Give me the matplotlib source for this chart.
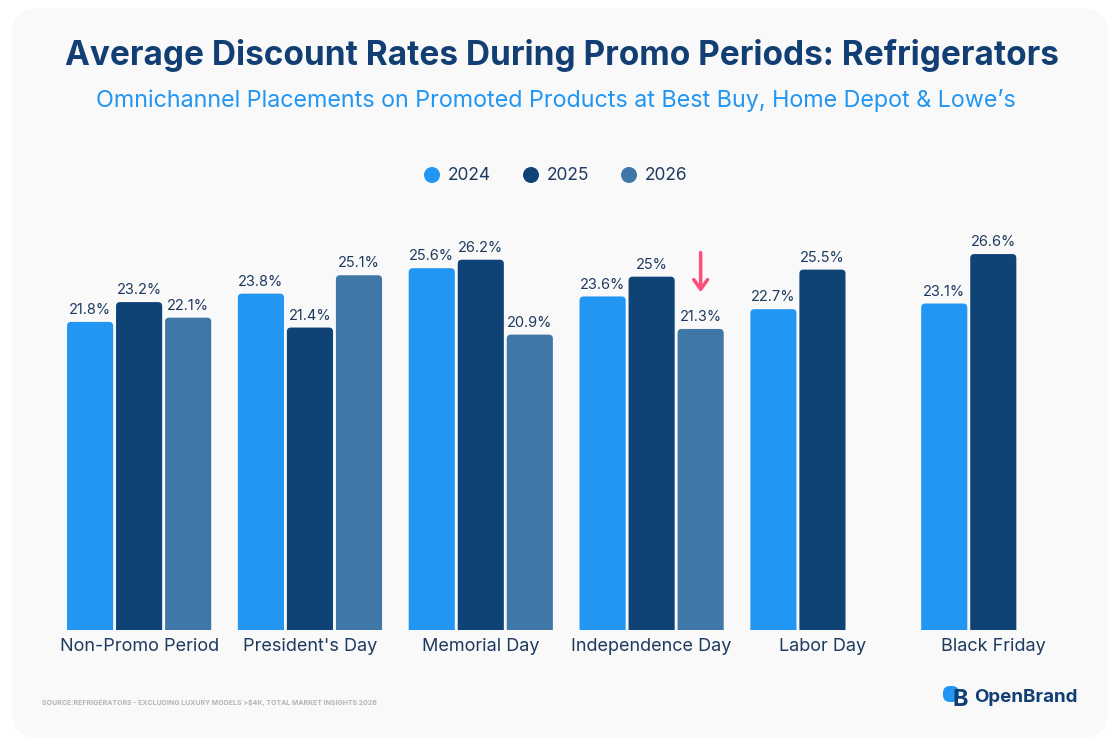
"""Average discount rates during promo periods -- refrigerators (grouped bar card)."""

import matplotlib

matplotlib.use("Agg")
import matplotlib.pyplot as plt
import numpy as np
from matplotlib.patches import Circle, FancyBboxPatch

W, H = 1120, 746

# Data
periods = ["Non-Promo Period", "President's Day", "Memorial Day",
           "Independence Day", "Labor Day", "Black Friday"]
years = ["2024", "2025", "2026"]
rate_2024 = [21.8, 23.8, 25.6, 23.6, 22.7, 23.1]
rate_2025 = [23.2, 21.4, 26.2, 25.0, 25.5, 26.6]
rate_2026 = [22.1, 25.1, 20.9, 21.3, np.nan, np.nan]

COLORS = ["#2196F3", "#0F4275", "#3F77A6"]
NAVY = "#123F73"
TEXT = "#1E3A5F"

plt.rcParams["font.family"] = ["Inter", "DejaVu Sans"]


def px_axes(fig, left, top, right, bottom):
    return fig.add_axes([left / W, 1 - bottom / H, (right - left) / W, (bottom - top) / H])


fig = plt.figure(figsize=(W / 100, H / 100), dpi=100, facecolor="white")

# background card
bg = px_axes(fig, 0, 0, W, H)
bg.set_xlim(0, W); bg.set_ylim(H, 0); bg.axis("off")
bg.add_patch(FancyBboxPatch((12, 8), 1096, 730, boxstyle="round,pad=0,rounding_size=26",
                            fc="#F9F9F9", ec="none"))

bg.text(562, 55, "Average Discount Rates During Promo Periods: Refrigerators",
        ha="center", va="center", fontsize=24, fontweight="bold", color=NAVY)
bg.text(556, 100, "Omnichannel Placements on Promoted Products at Best Buy, Home Depot & Lowe\u2019s",
        ha="center", va="center", fontsize=16.8, color="#2196F3")

# legend
for x0, yr, c in zip([432, 531, 629], years, COLORS):
    bg.add_patch(Circle((x0, 175), 8, fc=c, ec="none"))
    bg.text(x0 + 16, 175, yr, ha="left", va="center", fontsize=12.5, color=TEXT)

# source + logo
bg.text(42, 703, "SOURCE:REFRIGERATORS - EXCLUDING LUXURY MODELS >$4K, TOTAL MARKET INSIGHTS 2026",
        ha="left", va="center", fontsize=5, color="#B5B5B5", fontweight="bold")
bg.add_patch(FancyBboxPatch((943, 686), 16, 16, boxstyle="round,pad=0,rounding_size=7",
                            fc="#2196F3", ec="none"))
bg.text(960, 700, "B", ha="center", va="center", fontsize=17, fontweight="bold", color=NAVY)
bg.text(974, 697, "OpenBrand", ha="left", va="center", fontsize=13.5, fontweight="bold", color=NAVY)

# bars
ax = px_axes(fig, 53.7, 206, 1078.7, 630)
ax.set_facecolor("none")
ax.set_xlim(-0.5, 5.5)
ax.set_ylim(0, 30)
for s in ax.spines.values():
    s.set_visible(False)
ax.set_yticks([])
ax.set_xticks(range(len(periods)))
ax.set_xticklabels(periods, fontsize=13, color=TEXT)
ax.tick_params(axis="x", length=0, pad=6)

slot, bw = 0.287, 0.27
x = np.arange(len(periods))
for i, (vals, c) in enumerate(zip([rate_2024, rate_2025, rate_2026], COLORS)):
    for xi, v in zip(x + (i - 1) * slot, vals):
        if np.isnan(v):
            continue
        ax.add_patch(FancyBboxPatch((xi - bw / 2, -1), bw, v + 1,
                                    boxstyle="round,pad=0,rounding_size=0.024",
                                    mutation_aspect=12, fc=c, ec="none", clip_on=True))
        ax.annotate(f"{v:g}%", (xi, v), xytext=(0, 3.5), textcoords="offset points",
                    ha="center", va="bottom", fontsize=10.5, color=TEXT)

# highlight arrow on Independence Day 2026
ax.annotate("", xy=(3 + slot, 23.7), xytext=(3 + slot, 26.9),
            arrowprops=dict(arrowstyle="->,head_width=0.5,head_length=0.7",
                            color="#FF4D7A", lw=2.5))

fig.savefig("out.png", dpi=100, facecolor="white")
